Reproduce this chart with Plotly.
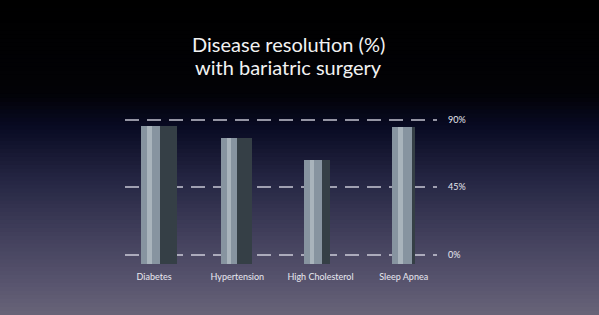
import plotly.graph_objects as go

categories = ["Diabetes", "Hypertension", "High Cholesterol", "Sleep Apnea"]
values = [86, 78, 63, 85]
tick_vals = [0, 45, 90]
tick_text = ["0%", "45%", "90%"]
title_lines = ["Disease resolution (%)", "with bariatric surgery"]

W, H = 599, 315
base = -6  # bars drawn slightly below baseline (perspective look)

# face geometry (style only)
front_w = [0.23, 0.2, 0.22, 0.24]
front_off = [-0.16, -0.2, -0.2, -0.14]
side_w = [0.21, 0.18, 0.09, 0.04]
side_off = [fo + fw for fo, fw in zip(front_off, front_w)]
hl_w = [0.06, 0.05, 0.05, 0.06]
hl_off = [fo + 0.07 for fo in front_off]

fig = go.Figure()
fig.add_trace(go.Bar(x=categories, y=[v - base for v in values], base=base,
                     width=side_w, offset=side_off,
                     marker=dict(color="#353f46", line=dict(width=0)),
                     hoverinfo="skip", showlegend=False))
fig.add_trace(go.Bar(x=categories, y=[v - base for v in values], base=base,
                     width=front_w, offset=front_off,
                     marker=dict(color="#8794a0", line=dict(width=0)),
                     showlegend=False))
fig.add_trace(go.Bar(x=categories, y=[v - base for v in values], base=base,
                     width=hl_w, offset=hl_off,
                     marker=dict(color="#a9b4bc", line=dict(width=0)),
                     hoverinfo="skip", showlegend=False))

# background gradient
stops = [(0.0, (0, 0, 0)), (0.3, (2, 2, 6)), (0.4, (8, 10, 34)),
         (0.58, (38, 39, 68)), (0.75, (66, 64, 92)), (0.9, (88, 84, 110)),
         (1.0, (104, 100, 120))]

def col(t):
    for (t0, c0), (t1, c1) in zip(stops, stops[1:]):
        if t0 <= t <= t1:
            f = (t - t0) / (t1 - t0) if t1 > t0 else 0
            return "rgb(%d,%d,%d)" % tuple(round(a + (b - a) * f) for a, b in zip(c0, c1))
    return "rgb(%d,%d,%d)" % stops[-1][1]

l, r, t_, b = 125, 162, 112, 45
ph = H - t_ - b
pw = W - l - r

shapes = []
N = 80
for i in range(N):
    t = (i + 0.5) / N
    y1w = 1 - i / N + 0.002
    y0w = 1 - (i + 1) / N - 0.002
    shapes.append(dict(type="rect", xref="paper", yref="paper",
                       x0=-l / pw - 0.1, x1=(W - l) / pw + 0.1,
                       y0=(y0w * H - b) / ph, y1=(y1w * H - b) / ph,
                       fillcolor=col(t), line=dict(width=0), layer="below"))

title_y = [44, 67]
annotations = [dict(text=txt, x=(288 - l) / pw, y=(H - yy - b) / ph,
                    xref="paper", yref="paper", xanchor="center", yanchor="middle",
                    showarrow=False, align="center",
                    font=dict(size=20, color="#f2f2f2", family="Lato, sans-serif"))
               for txt, yy in zip(title_lines, title_y)]

fig.update_layout(
    width=W, height=H,
    margin=dict(l=l, r=r, t=t_, b=b, pad=0),
    paper_bgcolor="#000000", plot_bgcolor="rgba(0,0,0,0)",
    barmode="overlay", bargap=0,
    shapes=shapes,
    font=dict(family="Lato, 'Open Sans', sans-serif", color="#e4e4ec"),
    annotations=annotations,
    xaxis=dict(range=[-0.35, 3.4], showgrid=False, zeroline=False, showline=False, ticks="",
               tickfont=dict(size=9, color="#e8e8f0"), fixedrange=True),
    yaxis=dict(range=[-10, 95], side="right", tickvals=tick_vals, ticktext=tick_text,
               showgrid=True, gridcolor="rgba(225,225,235,0.65)", gridwidth=1.5,
               griddash="14px,8px", zeroline=False, showline=False, ticks="",
               ticklabelstandoff=10,
               tickfont=dict(size=9, color="#e8e8f0"), fixedrange=True),
)

fig.write_html("out.html")
